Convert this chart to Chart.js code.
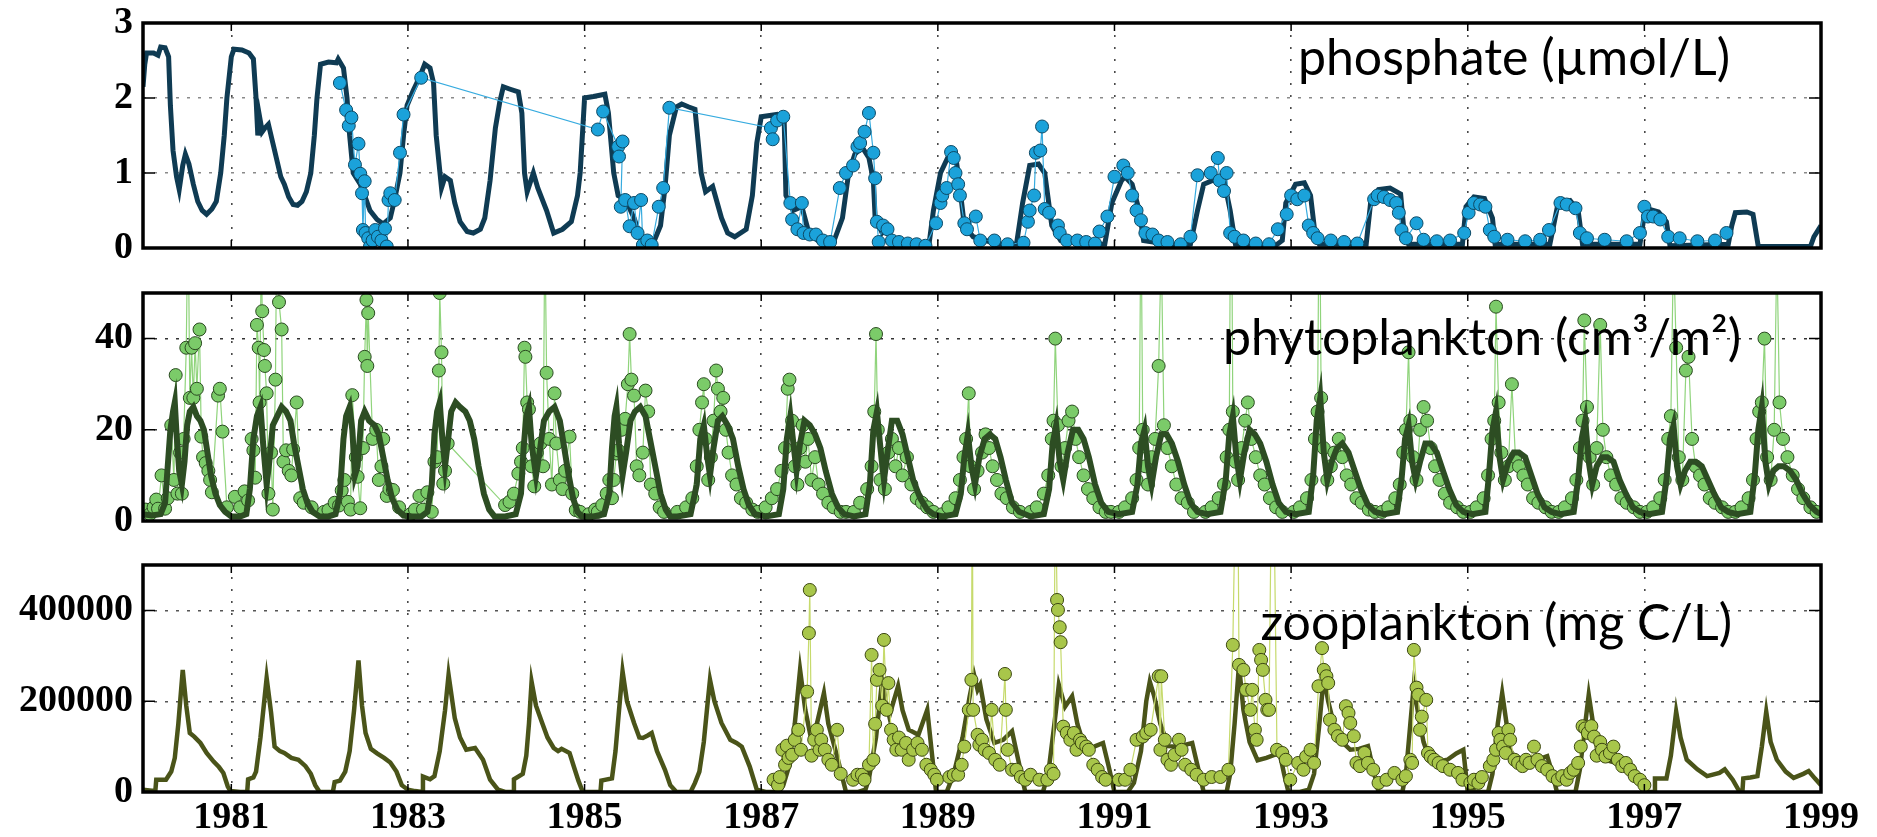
<!DOCTYPE html>
<html>
<head>
<meta charset="utf-8">
<script src="https://cdn.jsdelivr.net/npm/chart.js@4.4.1/dist/chart.umd.min.js"></script>
<style>
  html, body { margin: 0; padding: 0; background: #fff; }
  body { width: 1877px; height: 837px; position: relative; overflow: hidden; }
  canvas { position: absolute; left: 0; }
  .lbl { position: absolute; font-family: Lato, "Open Sans", sans-serif; font-size: 50px; line-height: 1; color: #000; white-space: nowrap; z-index: 5; }
</style>
</head>
<body>
<canvas id="phosChart" width="1877" height="270" style="top:0"></canvas>
<canvas id="phytoChart" width="1877" height="270" style="top:270px"></canvas>
<canvas id="zooChart" width="1877" height="297" style="top:540px"></canvas>
<div class="lbl" style="right:147px; top:31px">phosphate (µmol/L)</div>
<div class="lbl" style="right:136px; top:311px">phytoplankton (cm³/m²)</div>
<div class="lbl" style="right:145px; top:596px">zooplankton (mg C/L)</div>
<script>
// Axis ticks
const yearTicks = [1981, 1983, 1985, 1987, 1989, 1991, 1993, 1995, 1997, 1999];
const phosTicks = [0, 1, 2, 3];
const phytoTicks = [0, 20, 40];
const zooTicks = [0, 200000, 400000];

// Phosphate, model run [year, umol/L]
const phosModel = [
  [1980.0,2.15],[1980.02,2.45],[1980.04,2.6],[1980.12,2.6],[1980.17,2.57],[1980.2,2.68],[1980.25,2.67],[1980.29,2.55],[1980.31,1.9],[1980.34,1.3],[1980.38,0.95],[1980.41,0.78],[1980.45,1.1],[1980.48,1.25],[1980.52,1.12],[1980.57,0.85],[1980.62,0.62],[1980.67,0.5],[1980.72,0.45],[1980.78,0.52],[1980.83,0.62],[1980.88,1.0],[1980.92,1.5],[1980.95,2.0],[1981.0,2.55],
  [1981.03,2.65],[1981.12,2.64],[1981.2,2.6],[1981.25,2.52],[1981.28,2.0],[1981.3,1.5],[1981.32,1.75],[1981.35,1.55],[1981.38,1.6],[1981.42,1.65],[1981.47,1.4],[1981.51,1.2],[1981.56,0.95],[1981.6,0.85],[1981.65,0.68],[1981.7,0.58],[1981.75,0.57],[1981.8,0.62],[1981.85,0.75],[1981.9,1.0],[1981.94,1.5],[1981.97,2.0],[1982.01,2.45],
  [1982.1,2.48],[1982.19,2.47],[1982.21,2.52],[1982.27,2.4],[1982.31,2.0],[1982.34,1.5],[1982.38,1.0],[1982.46,0.85],[1982.51,0.7],[1982.57,0.5],[1982.65,0.38],[1982.72,0.32],[1982.8,0.4],[1982.85,0.65],[1982.91,1.0],[1982.95,1.5],[1982.99,1.9],
  [1983.06,2.1],[1983.14,2.3],[1983.19,2.45],[1983.25,2.4],[1983.29,2.2],[1983.32,1.5],[1983.38,0.8],[1983.42,0.95],[1983.48,0.9],[1983.53,0.6],[1983.59,0.35],[1983.67,0.22],[1983.74,0.2],[1983.82,0.25],[1983.87,0.4],[1983.93,0.9],[1983.99,1.6],[1984.04,1.95],
  [1984.08,2.15],[1984.15,2.12],[1984.25,2.08],[1984.29,1.8],[1984.32,1.0],[1984.35,0.75],[1984.42,1.0],[1984.47,0.8],[1984.57,0.5],[1984.65,0.2],[1984.75,0.25],[1984.85,0.35],[1984.92,0.7],[1984.95,1.0],[1984.98,1.6],[1985.0,2.0],
  [1985.1,2.02],[1985.23,2.05],[1985.27,1.8],[1985.33,1.0],[1985.38,0.7],[1985.46,0.65],[1985.56,0.4],[1985.64,0.12],[1985.79,0.1],[1985.86,0.3],[1985.91,0.8],[1985.96,1.5],[1986.04,1.88],
  [1986.1,1.92],[1986.18,1.88],[1986.25,1.85],[1986.32,1.0],[1986.37,0.75],[1986.45,0.82],[1986.55,0.4],[1986.62,0.2],[1986.7,0.15],[1986.83,0.25],[1986.9,0.7],[1986.95,1.4],[1987.0,1.75],
  [1987.18,1.78],[1987.26,1.7],[1987.28,0.7],[1987.36,0.5],[1987.46,0.55],[1987.54,0.2],[1987.66,0.08],[1987.81,0.05],[1987.92,0.4],[1987.99,1.0],
  [1988.06,1.25],[1988.14,1.35],[1988.22,1.2],[1988.27,0.9],[1988.29,0.4],[1988.37,0.2],[1988.42,0.25],[1988.5,0.1],[1988.78,0.05],[1988.9,0.05],[1988.95,0.5],
  [1989.03,1.0],[1989.15,1.3],[1989.2,1.25],[1989.25,0.8],[1989.3,0.3],[1989.4,0.15],[1989.68,0.05],[1989.89,0.05],[1989.96,0.6],
  [1990.04,1.1],[1990.14,1.12],[1990.21,1.0],[1990.29,0.3],[1990.39,0.1],[1990.79,0.05],[1990.89,0.05],[1990.97,0.6],
  [1991.08,0.9],[1991.12,0.95],[1991.2,0.85],[1991.28,0.5],[1991.33,0.1],[1991.71,0.03],[1991.86,0.05],[1991.94,0.5],
  [1992.01,0.85],[1992.11,0.9],[1992.24,0.9],[1992.31,0.5],[1992.37,0.05],[1992.82,0.03],[1992.9,0.1],[1992.94,0.6],
  [1993.05,0.85],[1993.15,0.87],[1993.22,0.7],[1993.27,0.2],[1993.32,0.05],[1993.85,0.05],[1993.9,0.6],
  [1993.99,0.78],[1994.12,0.8],[1994.24,0.72],[1994.28,0.2],[1994.33,0.05],[1994.94,0.05],
  [1994.98,0.55],[1995.07,0.68],[1995.19,0.66],[1995.28,0.4],[1995.31,0.05],[1995.93,0.05],
  [1996.02,0.58],[1996.16,0.63],[1996.25,0.5],[1996.3,0.05],[1996.95,0.05],
  [1997.0,0.45],[1997.04,0.52],[1997.16,0.48],[1997.25,0.35],[1997.29,0.03],[1997.95,0.05],
  [1997.99,0.3],[1998.03,0.47],[1998.16,0.48],[1998.23,0.45],[1998.29,0.02],[1998.88,0.02],[1998.92,0.15],[1999.0,0.3]
];

// Phosphate, measured [year, umol/L]
const phosObs = [
  [1982.23,2.2],[1982.3,1.84],[1982.33,1.63],[1982.36,1.74],[1982.4,1.11],[1982.44,1.39],[1982.46,0.99],[1982.48,0.73],[1982.49,0.24],[1982.51,0.89],[1982.52,0.2],[1982.55,0.13],[1982.57,0.02],[1982.6,0.1],[1982.63,0.24],[1982.66,0.15],[1982.7,0.1],[1982.74,0.26],[1982.76,0.02],[1982.78,0.64],[1982.8,0.73],[1982.85,0.64],[1982.91,1.27],[1982.95,1.78],[1983.15,2.27],
  [1985.15,1.58],[1985.21,1.82],[1985.38,1.35],[1985.39,1.22],[1985.43,1.42],[1985.41,0.55],[1985.46,0.64],[1985.51,0.29],[1985.56,0.6],[1985.6,0.2],[1985.64,0.64],[1985.66,0.04],[1985.71,0.1],[1985.76,0.04],[1985.84,0.55],[1985.89,0.8],[1985.96,1.87],
  [1987.11,1.6],[1987.13,1.45],[1987.18,1.7],[1987.25,1.75],[1987.33,0.6],[1987.35,0.38],[1987.41,0.25],[1987.46,0.6],[1987.48,0.2],[1987.55,0.18],[1987.62,0.18],[1987.7,0.1],[1987.78,0.08],[1987.89,0.8],[1987.96,1.0],
  [1988.04,1.1],[1988.09,1.35],[1988.12,1.4],[1988.17,1.55],[1988.22,1.8],[1988.27,1.27],[1988.29,0.93],[1988.31,0.35],[1988.33,0.08],[1988.38,0.3],[1988.43,0.25],[1988.48,0.1],[1988.56,0.08],[1988.66,0.06],[1988.76,0.05],[1988.86,0.03],
  [1988.98,0.33],[1989.03,0.6],[1989.05,0.7],[1989.1,0.8],[1989.15,1.28],[1989.18,1.2],[1989.2,1.0],[1989.23,0.85],[1989.25,0.7],[1989.3,0.33],[1989.33,0.25],[1989.43,0.42],[1989.48,0.1],[1989.64,0.1],[1989.79,0.05],
  [1989.97,0.07],[1990.02,0.35],[1990.04,0.5],[1990.09,0.7],[1990.11,1.27],[1990.16,1.3],[1990.18,1.62],[1990.21,0.52],[1990.26,0.47],[1990.36,0.3],[1990.38,0.2],[1990.46,0.1],[1990.58,0.1],[1990.68,0.08],[1990.78,0.06],
  [1990.83,0.22],[1990.92,0.42],[1991.0,0.95],[1991.1,1.1],[1991.15,1.0],[1991.2,0.7],[1991.25,0.5],[1991.3,0.37],[1991.35,0.2],[1991.43,0.18],[1991.5,0.1],[1991.6,0.08],[1991.75,0.05],
  [1991.86,0.15],[1991.94,0.97],[1992.09,1.0],[1992.17,1.2],[1992.19,0.9],[1992.24,0.76],[1992.27,1.0],[1992.31,0.2],[1992.36,0.15],[1992.46,0.1],[1992.6,0.06],[1992.75,0.05],
  [1992.85,0.25],[1992.95,0.45],[1993.0,0.7],[1993.07,0.65],[1993.15,0.7],[1993.2,0.3],[1993.25,0.2],[1993.3,0.13],[1993.45,0.1],[1993.6,0.08],[1993.75,0.06],
  [1993.94,0.65],[1993.98,0.7],[1994.05,0.68],[1994.12,0.64],[1994.19,0.6],[1994.22,0.47],[1994.25,0.24],[1994.3,0.13],[1994.42,0.33],[1994.5,0.11],[1994.65,0.09],[1994.8,0.1],
  [1994.96,0.2],[1995.01,0.47],[1995.07,0.6],[1995.14,0.58],[1995.2,0.55],[1995.25,0.24],[1995.3,0.15],[1995.45,0.11],[1995.65,0.09],[1995.82,0.11],
  [1995.92,0.24],[1996.05,0.6],[1996.12,0.58],[1996.22,0.53],[1996.27,0.2],[1996.35,0.13],[1996.55,0.11],[1996.8,0.09],
  [1996.95,0.2],[1997.0,0.55],[1997.04,0.42],[1997.1,0.42],[1997.18,0.38],[1997.27,0.15],[1997.4,0.13],[1997.6,0.09],[1997.8,0.1],[1997.93,0.2]
];

// Phytoplankton, model run [year, cm3/m2]
const phytoModel = [
  [1980.0,1.5],[1980.1,1.2],[1980.2,1.5],[1980.25,4],[1980.28,12],[1980.31,20],[1980.34,24],[1980.36,26],[1980.38,19],[1980.41,11],[1980.44,8],[1980.47,13],[1980.5,21],[1980.53,24],[1980.57,25],[1980.61,23],[1980.65,22],[1980.69,20],[1980.73,15],[1980.77,10],[1980.82,6],[1980.87,3.5],[1980.93,2],
  [1981.0,1],[1981.1,1],[1981.17,1.5],[1981.21,7],[1981.25,18],[1981.29,23],[1981.33,25],[1981.36,17],[1981.4,8],[1981.43,13],[1981.47,21],[1981.52,23],[1981.57,25],[1981.62,24],[1981.67,22],[1981.71,17],[1981.76,12],[1981.81,7],[1981.86,4],[1981.92,2],
  [1982.0,1],[1982.1,1],[1982.18,1.5],[1982.23,6],[1982.27,18],[1982.3,23],[1982.34,25],[1982.37,20],[1982.4,10],[1982.43,12],[1982.47,22],[1982.51,24],[1982.56,22],[1982.62,21],[1982.67,19],[1982.72,14],[1982.77,9],[1982.82,5],[1982.88,2.5],[1982.95,1.2],
  [1983.05,1],[1983.15,1],[1983.22,2],[1983.27,8],[1983.3,19],[1983.33,24],[1983.36,26],[1983.39,18],[1983.42,12],[1983.45,17],[1983.49,24],[1983.54,26],[1983.59,25],[1983.65,24],[1983.7,22],[1983.75,18],[1983.8,12],[1983.86,6],[1983.92,2.5],[1983.98,1],
  [1984.1,1],[1984.22,1.5],[1984.28,6],[1984.31,16],[1984.34,23],[1984.37,25],[1984.4,17],[1984.45,10],[1984.49,15],[1984.54,22],[1984.6,24],[1984.66,25],[1984.72,22],[1984.77,16],[1984.82,10],[1984.87,5],[1984.92,2],[1984.97,1],
  [1985.1,1],[1985.22,1.5],[1985.28,6],[1985.31,16],[1985.34,23],[1985.36,25],[1985.39,17],[1985.43,10],[1985.47,15],[1985.52,22],[1985.57,24],[1985.63,25],[1985.69,23],[1985.74,18],[1985.8,12],[1985.86,6],[1985.92,2.5],[1985.97,1],
  [1986.05,1],[1986.2,1.5],[1986.27,8],[1986.31,18],[1986.35,21],[1986.39,14],[1986.42,10],[1986.46,16],[1986.51,22],[1986.56,23],[1986.62,21],[1986.68,18],[1986.74,12],[1986.8,7],[1986.86,3.5],[1986.93,1.5],
  [1987.05,1],[1987.2,1.5],[1987.25,7],[1987.29,18],[1987.33,23],[1987.37,16],[1987.4,11],[1987.44,17],[1987.49,22],[1987.55,21],[1987.61,19],[1987.67,16],[1987.73,11],[1987.8,6],[1987.87,3],[1987.94,1.5],
  [1988.05,1],[1988.18,1.5],[1988.23,8],[1988.27,20],[1988.31,24],[1988.35,16],[1988.39,9],[1988.43,15],[1988.48,22],[1988.54,22],[1988.6,19],[1988.66,14],[1988.72,9],[1988.8,5],[1988.88,2.5],[1988.95,1.5],
  [1989.05,1],[1989.2,1.5],[1989.26,6],[1989.3,14],[1989.34,19],[1989.38,12],[1989.42,8],[1989.47,14],[1989.53,18],[1989.59,19],[1989.65,18],[1989.71,14],[1989.77,9],[1989.84,4],[1989.92,2],
  [1990.05,1],[1990.2,1.5],[1990.26,7],[1990.3,17],[1990.34,21],[1990.38,13],[1990.42,9],[1990.47,15],[1990.53,20],[1990.59,20],[1990.65,18],[1990.71,14],[1990.78,8],[1990.85,4],[1990.93,2],
  [1991.05,1.5],[1991.2,2],[1991.26,8],[1991.3,17],[1991.34,20],[1991.38,12],[1991.42,8],[1991.47,14],[1991.53,19],[1991.59,19],[1991.65,17],[1991.72,13],[1991.79,8],[1991.86,4],[1991.94,2],
  [1992.05,1.5],[1992.2,2],[1992.26,9],[1992.3,19],[1992.34,23],[1992.38,14],[1992.42,9],[1992.47,15],[1992.53,20],[1992.59,19],[1992.65,17],[1992.72,13],[1992.79,8],[1992.86,4],[1992.94,2],
  [1993.05,1.5],[1993.2,2],[1993.25,10],[1993.29,22],[1993.33,27],[1993.37,15],[1993.41,9],[1993.46,13],[1993.52,16],[1993.58,17],[1993.65,15],[1993.72,11],[1993.79,7],[1993.87,3.5],[1993.95,2],
  [1994.05,1.5],[1994.2,2],[1994.25,9],[1994.29,18],[1994.33,21],[1994.37,13],[1994.41,9],[1994.46,13],[1994.52,17],[1994.58,17],[1994.65,15],[1994.72,11],[1994.79,7],[1994.87,3.5],[1994.95,2],
  [1995.05,1.5],[1995.2,2],[1995.24,10],[1995.28,20],[1995.32,24],[1995.36,14],[1995.4,9],[1995.46,13],[1995.52,15],[1995.58,15],[1995.65,14],[1995.72,10],[1995.79,6],[1995.87,3],[1995.95,2],
  [1996.05,1.5],[1996.2,2],[1996.25,9],[1996.29,18],[1996.33,22],[1996.37,13],[1996.41,8],[1996.46,12],[1996.52,14],[1996.58,14],[1996.65,13],[1996.72,9],[1996.79,6],[1996.87,3],[1996.95,2],
  [1997.05,1.5],[1997.2,2],[1997.25,9],[1997.29,18],[1997.33,21],[1997.37,12],[1997.41,8],[1997.46,11],[1997.52,13],[1997.58,13],[1997.65,12],[1997.72,9],[1997.79,6],[1997.87,3],[1997.95,2],
  [1998.05,1.5],[1998.2,2],[1998.25,10],[1998.29,20],[1998.33,25],[1998.37,13],[1998.41,8],[1998.46,11],[1998.52,12],[1998.58,12],[1998.65,11],[1998.72,9],[1998.79,6],[1998.87,3.5],[1998.95,2],[1999.0,1.5]
];

// Phytoplankton, measured [year, cm3/m2]
const phytoObs = [
  [1980.03,2.5],[1980.08,1.5],[1980.12,3],[1980.15,4.7],[1980.17,2.7],[1980.21,10],[1980.25,2.7],[1980.28,5],[1980.32,21],[1980.35,9],[1980.37,32],[1980.39,6],[1980.42,15],[1980.44,6],[1980.46,18],[1980.49,38],[1980.51,70],[1980.53,27],[1980.55,38],[1980.57,27],[1980.59,39],[1980.61,29],[1980.64,42],[1980.66,18.5],[1980.68,14],[1980.71,12.7],[1980.74,11],[1980.76,9],[1980.78,6.3],[1980.85,27.5],[1980.87,29],[1980.9,19.6],[1980.95,3],
  [1981.04,5.3],[1981.1,3],[1981.15,6.5],[1981.19,4.5],[1981.23,18],[1981.25,15.5],[1981.27,9.5],[1981.29,43],[1981.31,38],[1981.32,26],[1981.34,60],[1981.35,46],[1981.37,37.5],[1981.38,34],[1981.4,28],[1981.42,6],[1981.45,15],[1981.47,2.5],[1981.5,31],[1981.52,80],[1981.54,48],[1981.57,42],[1981.59,13],[1981.62,15.5],[1981.65,11],[1981.68,10],[1981.7,15.7],[1981.74,26],[1981.78,5],[1981.82,4],[1981.91,3],
  [1982.05,2],[1982.1,2.4],[1982.17,4],[1982.22,3.4],[1982.25,6.7],[1982.28,9],[1982.32,4.2],[1982.35,2.5],[1982.37,27.6],[1982.41,14],[1982.43,9.7],[1982.46,2.8],[1982.49,16],[1982.51,36],[1982.53,48.5],[1982.54,34],[1982.55,45.6],[1982.6,18],[1982.64,20],[1982.67,9],[1982.7,12],[1982.72,18],[1982.76,5.5],[1982.79,7],[1982.83,6.8],[1982.9,3],
  [1983.03,1.5],[1983.08,2.5],[1983.13,5.5],[1983.17,2.5],[1983.22,6.3],[1983.27,2],[1983.3,13],[1983.33,14],[1983.35,33],[1983.36,50],[1983.38,37],[1983.4,8.2],[1983.42,11],[1983.45,17],
  [1984.1,3.5],[1984.15,4.2],[1984.2,6],[1984.25,10.4],[1984.28,13],[1984.3,16],[1984.32,38],[1984.33,36],[1984.35,26],[1984.37,24.5],[1984.4,12],[1984.43,7.6],[1984.46,15],[1984.5,17],[1984.53,12],[1984.55,65],[1984.57,32.5],[1984.6,18],[1984.63,8],[1984.66,28],[1984.68,17],[1984.72,9],[1984.75,7],[1984.78,11],[1984.83,18.5],[1984.86,6],[1984.9,2.4],[1984.95,2],
  [1985.05,1.5],[1985.12,2.5],[1985.15,2],[1985.2,3.5],[1985.25,6],[1985.28,9],[1985.31,5],[1985.33,9],[1985.36,14.8],[1985.38,15.5],[1985.42,20],[1985.46,22.4],[1985.49,30],[1985.51,41],[1985.53,31],[1985.56,27.5],[1985.59,12],[1985.62,10],[1985.66,15],[1985.69,28.6],[1985.72,24],[1985.75,8],[1985.8,6],[1985.85,3],[1985.9,2],
  [1986.05,2],[1986.15,3],[1986.22,5],[1986.27,12],[1986.3,20],[1986.33,26],[1986.35,30],[1986.37,18],[1986.4,9],[1986.43,14],[1986.46,22],[1986.49,33],[1986.51,29],[1986.54,24],[1986.57,27],[1986.6,20],[1986.63,15],[1986.67,10],[1986.72,8],[1986.77,5],[1986.83,4],[1986.9,2.5],[1986.96,2],
  [1987.05,3],[1987.12,5],[1987.18,7],[1987.23,11],[1987.27,16],[1987.3,29],[1987.32,31],[1987.35,22],[1987.38,12],[1987.41,8],[1987.44,16],[1987.47,21],[1987.5,13],[1987.53,18],[1987.57,9],[1987.61,14],[1987.65,8],[1987.7,6],[1987.76,4],[1987.82,3],[1987.9,2],[1987.96,2],
  [1988.05,2],[1988.12,4],[1988.2,7],[1988.25,12],[1988.28,24],[1988.3,41],[1988.32,20],[1988.35,9],[1988.4,7],[1988.44,15],[1988.48,18],[1988.52,12],[1988.56,16],[1988.6,10],[1988.65,14],[1988.7,8],[1988.76,5],[1988.82,4],[1988.88,3],[1988.95,2],
  [1989.05,1.5],[1989.12,3],[1989.2,5],[1989.25,9],[1989.29,14],[1989.32,18],[1989.35,28],[1989.37,12],[1989.41,7],[1989.45,11],[1989.5,15],[1989.54,19],[1989.58,16],[1989.62,12],[1989.67,9],[1989.72,6],[1989.78,5],[1989.85,3],[1989.93,2],
  [1990.05,2],[1990.12,3],[1990.2,6],[1990.25,10],[1990.29,18],[1990.31,22],[1990.33,40],[1990.36,21],[1990.4,12],[1990.44,16],[1990.48,22],[1990.52,24],[1990.56,18],[1990.6,14],[1990.65,10],[1990.7,7],[1990.76,5],[1990.83,3],[1990.9,2],[1990.96,2],
  [1991.05,2],[1991.12,3],[1991.2,5],[1991.25,9],[1991.28,16],[1991.3,70],[1991.32,20],[1991.35,12],[1991.38,8],[1991.42,14],[1991.46,18],[1991.5,34],[1991.53,60],[1991.56,21],[1991.6,16],[1991.65,12],[1991.7,8],[1991.76,5],[1991.83,4],[1991.9,2],
  [1992.03,2],[1992.1,3],[1992.18,5],[1992.24,8],[1992.27,14],[1992.3,20],[1992.32,90],[1992.34,24],[1992.37,13],[1992.4,9],[1992.44,16],[1992.48,22],[1992.51,26],[1992.55,18],[1992.6,14],[1992.65,10],[1992.7,8],[1992.76,5],[1992.83,3],[1992.9,2],
  [1993.03,2],[1993.1,3],[1993.18,5],[1993.23,9],[1993.27,18],[1993.3,24],[1993.32,80],[1993.34,27],[1993.37,16],[1993.41,9],[1993.45,12],[1993.49,15],[1993.54,18],[1993.58,14],[1993.63,10],[1993.68,8],[1993.74,5],[1993.8,4],[1993.88,2.5],[1993.95,2],
  [1994.03,2],[1994.1,3],[1994.18,5],[1994.23,8],[1994.27,15],[1994.3,20],[1994.33,37],[1994.35,22],[1994.38,14],[1994.42,9],[1994.46,20],[1994.5,25],[1994.54,22],[1994.58,16],[1994.63,12],[1994.68,9],[1994.74,6],[1994.8,4],[1994.88,3],[1994.95,2],
  [1995.03,2],[1995.1,3],[1995.18,5],[1995.23,10],[1995.27,18],[1995.3,22],[1995.32,47],[1995.35,26],[1995.38,15],[1995.42,9],[1995.46,12],[1995.5,30],[1995.54,14],[1995.58,12],[1995.63,10],[1995.68,8],[1995.74,5],[1995.8,4],[1995.88,3],[1995.95,2],
  [1996.03,2],[1996.1,3],[1996.18,5],[1996.23,9],[1996.27,16],[1996.3,22],[1996.32,44],[1996.35,25],[1996.38,14],[1996.42,8],[1996.46,16],[1996.5,43],[1996.53,20],[1996.57,14],[1996.62,10],[1996.68,8],[1996.74,5],[1996.8,4],[1996.88,3],[1996.95,2],
  [1997.03,2],[1997.1,3],[1997.18,5],[1997.23,9],[1997.27,18],[1997.3,23],[1997.33,60],[1997.36,38],[1997.39,14],[1997.43,9],[1997.47,33],[1997.5,36],[1997.54,18],[1997.58,12],[1997.63,10],[1997.68,8],[1997.74,5],[1997.8,4],[1997.88,3],[1997.95,2],
  [1998.03,2],[1998.1,3],[1998.18,5],[1998.23,9],[1998.27,18],[1998.3,24],[1998.33,26],[1998.36,40],[1998.39,14],[1998.43,9],[1998.47,20],[1998.5,60],[1998.53,26],[1998.57,18],[1998.62,14],[1998.68,10],[1998.74,7],[1998.8,5],[1998.88,3],[1998.95,2]
];

// Zooplankton, model run [year, mg C/L]
const zooModel = [
  [1980.0,5000],[1980.1,3000],[1980.14,3000],[1980.15,27000],[1980.26,27000],[1980.32,45000],[1980.36,75000],[1980.4,150000],[1980.45,269000],[1980.49,190000],[1980.53,130000],[1980.58,122000],[1980.65,108000],[1980.72,86000],[1980.8,67000],[1980.86,55000],[1980.91,42000],[1980.96,12000],[1980.99,2000],
  [1981.1,0],[1981.18,0],[1981.19,28000],[1981.25,32000],[1981.28,45000],[1981.33,120000],[1981.4,251000],[1981.45,175000],[1981.49,100000],[1981.55,90000],[1981.6,86000],[1981.68,75000],[1981.76,71000],[1981.84,57000],[1981.9,40000],[1981.95,15000],[1982.0,0],
  [1982.1,0],[1982.15,0],[1982.17,22000],[1982.23,25000],[1982.29,45000],[1982.34,90000],[1982.39,180000],[1982.44,290000],[1982.48,190000],[1982.52,130000],[1982.58,95000],[1982.65,85000],[1982.73,75000],[1982.8,65000],[1982.87,45000],[1982.93,15000],[1983.0,5000],
  [1983.08,2000],[1983.16,0],[1983.17,34000],[1983.25,28000],[1983.3,35000],[1983.36,90000],[1983.42,180000],[1983.46,258000],[1983.53,163000],[1983.59,120000],[1983.66,93000],[1983.76,97000],[1983.85,71000],[1983.93,27000],[1984.02,5000],
  [1984.1,0],[1984.19,0],[1984.2,28000],[1984.3,40000],[1984.34,80000],[1984.37,150000],[1984.4,243000],[1984.45,190000],[1984.52,152000],[1984.58,120000],[1984.65,97000],[1984.7,90000],[1984.74,95000],[1984.83,86000],[1984.88,55000],[1984.93,25000],[1984.98,0],
  [1985.1,0],[1985.18,0],[1985.19,25000],[1985.31,30000],[1985.35,90000],[1985.39,180000],[1985.43,266000],[1985.48,200000],[1985.56,152000],[1985.62,120000],[1985.66,119000],[1985.72,125000],[1985.76,130000],[1985.82,90000],[1985.91,49000],[1985.97,15000],[1986.04,0],
  [1986.1,0],[1986.2,0],[1986.25,20000],[1986.3,45000],[1986.35,110000],[1986.39,190000],[1986.42,247000],[1986.47,200000],[1986.55,152000],[1986.65,115000],[1986.72,108000],[1986.78,100000],[1986.87,56000],[1986.95,5000],
  [1987.05,0],[1987.2,0],[1987.25,15000],[1987.32,60000],[1987.38,150000],[1987.44,269000],[1987.5,180000],[1987.56,122000],[1987.63,150000],[1987.71,218000],[1987.76,150000],[1987.86,78000],[1987.96,0],
  [1988.1,0],[1988.18,5000],[1988.22,30000],[1988.3,120000],[1988.37,247000],[1988.41,200000],[1988.45,167000],[1988.55,233000],[1988.6,180000],[1988.67,137000],[1988.78,126000],[1988.88,181000],[1988.93,90000],[1988.98,0],
  [1989.1,0],[1989.18,40000],[1989.28,120000],[1989.36,210000],[1989.41,258000],[1989.45,225000],[1989.48,236000],[1989.55,160000],[1989.64,108000],[1989.74,115000],[1989.84,134000],[1989.9,80000],[1989.99,0],
  [1990.1,0],[1990.19,0],[1990.25,40000],[1990.32,150000],[1990.37,236000],[1990.44,188000],[1990.52,211000],[1990.58,150000],[1990.67,93000],[1990.77,100000],[1990.87,108000],[1990.93,60000],[1991.0,0],
  [1991.15,0],[1991.22,20000],[1991.3,90000],[1991.36,200000],[1991.4,243000],[1991.45,211000],[1991.52,150000],[1991.61,101000],[1991.72,100000],[1991.88,108000],[1991.95,50000],[1992.01,0],
  [1992.15,0],[1992.27,0],[1992.31,40000],[1992.36,150000],[1992.41,280000],[1992.46,181000],[1992.53,110000],[1992.62,70000],[1992.72,75000],[1992.87,86000],[1992.92,40000],[1992.97,0],
  [1993.1,0],[1993.2,5000],[1993.26,40000],[1993.32,150000],[1993.37,254000],[1993.42,200000],[1993.49,145000],[1993.58,110000],[1993.67,93000],[1993.77,95000],[1993.87,101000],[1993.93,50000],[1993.99,0],
  [1994.1,0],[1994.26,0],[1994.3,40000],[1994.35,150000],[1994.39,236000],[1994.44,170000],[1994.5,110000],[1994.57,71000],[1994.66,66000],[1994.77,71000],[1994.87,85000],[1994.95,93000],[1995.0,0],
  [1995.04,0],[1995.05,30000],[1995.07,0],[1995.23,0],[1995.28,40000],[1995.34,150000],[1995.39,218000],[1995.44,150000],[1995.48,93000],[1995.55,70000],[1995.63,57000],[1995.75,68000],[1995.9,79000],[1995.96,40000],[1996.01,0],
  [1996.12,0],[1996.22,0],[1996.27,50000],[1996.33,150000],[1996.37,214000],[1996.42,150000],[1996.47,86000],[1996.57,70000],[1996.69,64000],[1996.78,60000],[1996.87,57000],[1996.95,25000],[1997.01,0],
  [1997.11,0],[1997.12,30000],[1997.25,30000],[1997.3,80000],[1997.36,177000],[1997.41,120000],[1997.48,71000],[1997.6,50000],[1997.71,35000],[1997.85,42000],[1997.91,50000],[1998.0,27000],[1998.08,0],
  [1998.11,0],[1998.12,30000],[1998.2,32000],[1998.28,35000],[1998.33,100000],[1998.38,177000],[1998.43,110000],[1998.5,71000],[1998.6,45000],[1998.69,31000],[1998.8,40000],[1998.86,46000],[1998.93,30000],[1999.0,15000]
];

// Zooplankton, measured [year, mg C/L]
const zooObs = [
  [1987.14,27000],[1987.19,15000],[1987.21,33000],[1987.24,93000],[1987.27,60000],[1987.29,102000],[1987.31,75000],[1987.35,82000],[1987.38,115000],[1987.42,137000],[1987.45,93000],[1987.52,221000],[1987.54,350000],[1987.55,445000],[1987.57,80000],[1987.6,115000],[1987.63,137000],[1987.66,93000],[1987.68,115000],[1987.72,93000],[1987.76,71000],[1987.8,60000],[1987.86,137000],[1987.9,40000],
  [1988.04,27000],[1988.09,38000],[1988.14,38000],[1988.17,27000],[1988.22,60000],[1988.25,302000],[1988.27,71000],[1988.29,150000],[1988.31,247000],[1988.34,269000],[1988.37,190000],[1988.39,335000],[1988.42,181000],[1988.44,240000],[1988.47,137000],[1988.5,115000],[1988.53,93000],[1988.56,120000],[1988.59,93000],[1988.64,108000],[1988.67,71000],[1988.72,93000],[1988.77,108000],[1988.82,93000],[1988.87,60000],[1988.92,49000],[1988.96,38000],[1988.99,27000],
  [1989.13,33000],[1989.18,38000],[1989.23,38000],[1989.27,60000],[1989.3,100000],[1989.35,181000],[1989.38,247000],[1989.39,700000],[1989.4,181000],[1989.45,126000],[1989.47,104000],[1989.5,115000],[1989.53,93000],[1989.58,86000],[1989.61,181000],[1989.65,71000],[1989.7,60000],[1989.76,260000],[1989.77,181000],[1989.79,93000],[1989.84,49000],[1989.89,49000],[1989.94,33000],[1989.99,27000],
  [1990.05,38000],[1990.15,27000],[1990.24,27000],[1990.28,49000],[1990.31,40000],[1990.33,700000],[1990.35,423000],[1990.36,401000],[1990.38,363000],[1990.39,330000],[1990.42,144000],[1990.46,130000],[1990.5,115000],[1990.54,130000],[1990.57,93000],[1990.61,115000],[1990.63,108000],[1990.68,100000],[1990.71,93000],[1990.76,60000],[1990.81,49000],[1990.86,33000],[1990.9,27000],
  [1991.05,27000],[1991.12,27000],[1991.18,49000],[1991.25,115000],[1991.32,122000],[1991.36,130000],[1991.41,137000],[1991.5,255000],[1991.52,93000],[1991.53,255000],[1991.57,115000],[1991.6,71000],[1991.64,60000],[1991.68,82000],[1991.73,115000],[1991.76,93000],[1991.8,60000],[1991.87,49000],[1991.93,38000],
  [1992.01,27000],[1992.1,33000],[1992.2,33000],[1992.29,49000],[1992.34,324000],[1992.39,900000],[1992.41,280000],[1992.46,269000],[1992.49,225000],[1992.54,181000],[1992.56,225000],[1992.59,137000],[1992.61,115000],[1992.64,313000],[1992.66,291000],[1992.68,269000],[1992.71,203000],[1992.73,181000],[1992.75,181000],[1992.79,900000],[1992.84,93000],[1992.9,86000],[1992.94,71000],
  [1992.99,27000],[1993.08,64000],[1993.14,49000],[1993.17,78000],[1993.22,93000],[1993.26,64000],[1993.31,233000],[1993.35,317000],[1993.37,269000],[1993.4,255000],[1993.42,240000],[1993.44,159000],[1993.49,137000],[1993.53,123000],[1993.58,115000],[1993.62,189000],[1993.65,174000],[1993.67,152000],[1993.71,123000],[1993.74,64000],[1993.78,57000],[1993.83,86000],[1993.87,64000],[1993.93,49000],
  [1993.99,20000],[1994.08,27000],[1994.17,42000],[1994.26,27000],[1994.3,35000],[1994.35,71000],[1994.37,64000],[1994.39,313000],[1994.42,230000],[1994.44,214000],[1994.46,137000],[1994.48,166000],[1994.53,203000],[1994.55,86000],[1994.58,78000],[1994.62,71000],[1994.67,64000],[1994.72,57000],[1994.8,49000],[1994.89,42000],[1994.94,27000],
  [1995.03,20000],[1995.07,27000],[1995.12,20000],[1995.16,33000],[1995.25,57000],[1995.29,71000],[1995.32,93000],[1995.35,130000],[1995.37,115000],[1995.4,100000],[1995.43,86000],[1995.46,137000],[1995.48,115000],[1995.53,71000],[1995.57,64000],[1995.62,57000],[1995.66,71000],[1995.7,64000],[1995.75,100000],[1995.79,71000],[1995.84,57000],[1995.9,49000],[1995.96,35000],
  [1996.02,27000],[1996.07,35000],[1996.12,27000],[1996.16,42000],[1996.2,49000],[1996.25,64000],[1996.28,100000],[1996.3,145000],[1996.33,140000],[1996.36,130000],[1996.4,145000],[1996.43,122000],[1996.46,80000],[1996.5,110000],[1996.52,93000],[1996.56,78000],[1996.61,86000],[1996.65,100000],[1996.7,71000],[1996.75,57000],[1996.79,64000],[1996.84,49000],[1996.89,35000],[1996.95,27000],[1997.0,15000]
];

// Box around the plot area plus small inward tick marks
const framePlugin = {
    id: 'frame',
    afterDraw(chart) {
        const ctx = chart.ctx;
        const a = chart.chartArea;
        const xs = chart.scales.x, ys = chart.scales.y;
        ctx.save();
        ctx.strokeStyle = '#000';
        ctx.lineWidth = 1.5;
        ctx.beginPath();
        ys.ticks.forEach(t => {
            const y = ys.getPixelForValue(t.value);
            ctx.moveTo(a.left, y); ctx.lineTo(a.left + 12, y);
            ctx.moveTo(a.right - 12, y); ctx.lineTo(a.right, y);
        });
        xs.ticks.forEach(t => {
            const x = xs.getPixelForValue(t.value);
            ctx.moveTo(x, a.top); ctx.lineTo(x, a.top + 8);
            ctx.moveTo(x, a.bottom - 8); ctx.lineTo(x, a.bottom);
        });
        ctx.stroke();
        ctx.lineWidth = 3.5;
        ctx.strokeRect(a.left, a.top, a.right - a.left, a.bottom - a.top);
        ctx.restore();
    }
};

const serif = 'Liberation Serif, "DejaVu Serif", serif';

function makePanel(id, p) {
    const obsSet = {
        data: p.obs,
        showLine: true,
        borderColor: p.obsLine,
        borderWidth: 1.2,
        pointRadius: 6.5,
        pointBackgroundColor: p.obsFill,
        pointBorderColor: p.obsEdge,
        pointBorderWidth: 1,
        order: p.modelOnTop ? 2 : 1
    };
    const modelSet = {
        data: p.model,
        showLine: true,
        borderColor: p.modelColor,
        borderWidth: p.modelWidth,
        pointRadius: 0,
        tension: 0,
        order: p.modelOnTop ? 1 : 2
    };
    return new Chart(document.getElementById(id), {
        type: 'scatter',
        data: { datasets: [obsSet, modelSet] },
        options: {
            responsive: false,
            animation: false,
            devicePixelRatio: 1,
            events: [],
            layout: { padding: { left: 0, right: 56, top: p.padTop, bottom: p.padBottom } },
            plugins: { legend: { display: false }, tooltip: { enabled: false } },
            scales: {
                x: {
                    type: 'linear', min: 1980, max: 1999,
                    afterBuildTicks: s => { s.ticks = yearTicks.map(v => ({ value: v })); },
                    afterFit: s => { s.height = p.showX ? 45 : 0; s.paddingLeft = 0; s.paddingRight = 0; },
                    ticks: { display: p.showX, autoSkip: false, maxRotation: 0, padding: 3, color: '#000',
                             font: { family: serif, size: 38, weight: 'bold' }, callback: v => String(v) },
                    grid: { color: '#4a4a4a', lineWidth: 1.6, drawTicks: false },
                    border: { display: false, dash: [2, 10] }
                },
                y: {
                    min: 0, max: p.yMax,
                    afterBuildTicks: s => { s.ticks = p.yTicks.map(v => ({ value: v })); },
                    afterFit: s => { s.width = 143; s.paddingTop = 0; s.paddingBottom = 0; },
                    ticks: { padding: 10, color: '#000', font: { family: serif, size: 38, weight: 'bold' }, callback: v => String(v) },
                    grid: { color: p.yGrid, lineWidth: 1.4, drawTicks: false },
                    border: { display: false, dash: [3, 8] }
                }
            }
        },
        plugins: [framePlugin]
    });
}

makePanel('phosChart', {
    model: phosModel, obs: phosObs, yMax: 3, yTicks: phosTicks,
    padTop: 23, padBottom: 22, showX: false, yGrid: '#8a8a8a',
    modelColor: '#0f3b53', modelWidth: 5,
    obsLine: '#36abdf', obsFill: '#1ba2da', obsEdge: '#0d4a66', modelOnTop: false
});

makePanel('phytoChart', {
    model: phytoModel, obs: phytoObs, yMax: 50, yTicks: phytoTicks,
    padTop: 23, padBottom: 19, showX: false, yGrid: '#333333',
    modelColor: '#2d4d23', modelWidth: 6,
    obsLine: '#90d47c', obsFill: '#7bcb69', obsEdge: '#2a4a20', modelOnTop: true
});

makePanel('zooChart', {
    model: zooModel, obs: zooObs, yMax: 500000, yTicks: zooTicks,
    padTop: 25, padBottom: 0, showX: true, yGrid: '#555555',
    modelColor: '#4a5419', modelWidth: 4.5,
    obsLine: '#c6da6c', obsFill: '#a8c64a', obsEdge: '#3d4812', modelOnTop: false
});
</script>
</body>
</html>
